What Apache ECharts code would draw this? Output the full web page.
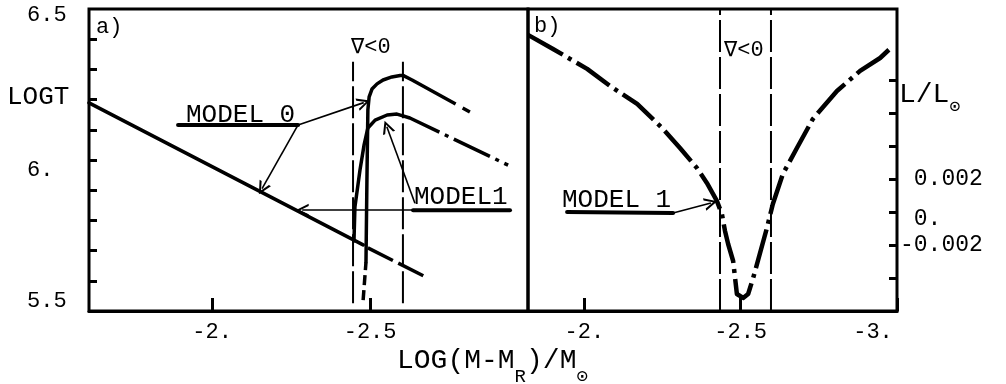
<!DOCTYPE html>
<html><head><meta charset="utf-8">
<script src="https://cdn.jsdelivr.net/npm/echarts@6/dist/echarts.min.js"></script>
<style>html,body{margin:0;padding:0;background:#fff}#c{width:1006px;height:384px}</style>
</head><body><div id="c"></div>
<script>
// ================= DATA =================
// Panel a) axes
const aXTickValues = [-2.5, -2];
const aXTickLabels = ['-2.5', '-2.'];
const logTTickValues = [5.6, 5.7, 5.8, 5.9, 6.0, 6.1, 6.2, 6.3, 6.4];
const logTLabelValues = [5.5, 6.0, 6.5];
const logTLabels = ['5.5', '6.', '6.5'];
// Panel b) axes
const bXTickValues = [-3, -2.5, -2];
const bXTickLabels = ['-3.', '-2.5', '-2.'];
const lumTickValues = [-0.004, -0.002, 0, 0.002, 0.004, 0.006, 0.008];
const lumLabelValues = [-0.002, 0, 0.002];
const lumLabels = ['-0.002', ' 0.', ' 0.002'];

// Panel a) LOG T curves
const aSharedX = [-1.610, -2.478];
const aSharedY = [6.189, 5.719];
const aSharedTailX = [-2.493, -2.683];
const aSharedTailY = [5.709, 5.609];
const aModel0LegX = [-2.478, -2.487];
const aModel0LegY = [5.536, 5.662];
const aModel0X = [-2.487, -2.490, -2.493, -2.497, -2.506, -2.522, -2.541, -2.569, -2.595, -2.604];
const aModel0Y = [5.662, 5.934, 6.166, 6.209, 6.235, 6.252, 6.265, 6.275, 6.280, 6.280];
const aModel0TailX = [-2.604, -2.633, -2.816];
const aModel0TailY = [6.280, 6.265, 6.159];
const aModel1X = [-2.449, -2.452, -2.468, -2.481, -2.493, -2.516, -2.554, -2.585, -2.604];
const aModel1Y = [5.732, 5.844, 5.967, 6.050, 6.106, 6.132, 6.149, 6.152, 6.146];
const aModel1TailX = [-2.604, -2.626, -2.937];
const aModel1TailY = [6.146, 6.139, 5.983];
// Panel a) region of negative gradient
const aGradX = [-2.446, -2.604];
const aGradY = [5.526, 6.325];

// Panel b) L/Lsun curve of model 1
const bX = [-1.820, -1.900, -2.009, -2.082, -2.169, -2.249, -2.306, -2.360, -2.392, -2.424, -2.440, -2.450, -2.460, -2.476, -2.488, -2.508, -2.524, -2.540, -2.584, -2.603, -2.635, -2.680, -2.731, -2.808, -2.882, -2.946, -2.987];
const bY = [0.01073, 0.00988, 0.00867, 0.00764, 0.00655, 0.00509, 0.00388, 0.00267, 0.00176, 0.00067, -0.00012, -0.00115, -0.00194, -0.00297, -0.00497, -0.00521, -0.00497, -0.00400, -0.00097, 0.00048, 0.00230, 0.00388, 0.00564, 0.00733, 0.00855, 0.00933, 0.01006];
const bGradX = [-2.434, -2.597];
const bGradY = [-0.006, 0.0123];

// Annotations (data coordinates)
const aLeader0 = [[-1.892, 6.116], [-2.272, 6.116]];
const aLeader1 = [[-2.636, 5.834], [-2.943, 5.834]];
const aArrowFrom = [[-2.272, 6.116], [-2.272, 6.116], [-2.636, 5.834], [-2.642, 5.857]];
const aArrowTo = [[-2.480, 6.190], [-2.158, 5.905], [-2.285, 5.834], [-2.553, 6.110]];
const bLeader = [[-1.945, 0.00000], [-2.284, -0.00006]];
const bArrowFrom = [[-2.284, -0.00006]];
const bArrowTo = [[-2.405, 0.00055]];

// ================= CHART =================
const FONT = '"Liberation Mono", "DejaVu Sans Mono", monospace';
const pairs = (xs, ys) => xs.map((x, i) => [x, ys[i]]);
const find = (vals, v) => vals.findIndex(t => Math.abs(t - v) < 1e-9);
const CHEVRON = 'path://M5,0 L10,12 L8.2,12 L5,4 L1.8,12 L0,12 Z';

function line(gi, xs, ys, type, width) {
  return {type: 'line', xAxisIndex: gi, yAxisIndex: gi, data: pairs(xs, ys), symbol: 'none',
    lineStyle: {color: '#000', width: width, type: type, cap: type === 'solid' ? 'round' : 'butt', join: 'round'},
    silent: true, animation: false, z: 3};
}
function arrows(gi, from, to) {
  return {type: 'line', xAxisIndex: gi, yAxisIndex: gi, data: [], symbol: 'none', silent: true, animation: false,
    color: '#000',
    markLine: {silent: true, animation: false, symbol: ['none', CHEVRON], symbolSize: 13,
      itemStyle: {color: '#000'},
      label: {show: false}, lineStyle: {color: '#000', width: 1.6, type: 'solid'},
      data: from.map((f, i) => [{coord: f}, {coord: to[i]}])}};
}
const tick = (vals, len) => ({show: true, inside: true, length: len, customValues: vals, lineStyle: {color: '#000', width: 3}});
const xTick = {show: true, inside: true, length: 13, lineStyle: {color: '#000', width: 3}};
const lab = {fontFamily: FONT, fontSize: 22, color: '#000'};

const series = [
  line(0, aSharedX, aSharedY, 'solid', 3.5),
  line(0, aSharedTailX, aSharedTailY, [28, 6], 3.5),
  line(0, aModel0LegX, aModel0LegY, [10, 5], 3.5),
  line(0, aModel0X, aModel0Y, 'solid', 3.5),
  line(0, aModel0TailX, aModel0TailY, [60, 8], 3.5),
  line(0, aModel1X, aModel1Y, 'solid', 3.5),
  line(0, aModel1TailX, aModel1TailY, [40, 6, 4, 6], 3.5),
  ...aGradX.map(x => line(0, [x, x], aGradY, [32, 5], 2)),
  line(0, aLeader0.map(p => p[0]), aLeader0.map(p => p[1]), 'solid', 4),
  line(0, aLeader1.map(p => p[0]), aLeader1.map(p => p[1]), 'solid', 4),
  arrows(0, aArrowFrom, aArrowTo),
  line(1, bX, bY, [40, 6, 4, 6], 4.5),
  ...bGradX.map(x => line(1, [x, x], bGradY, [32, 5], 2)),
  line(1, bLeader.map(p => p[0]), bLeader.map(p => p[1]), 'solid', 4),
  arrows(1, bArrowFrom, bArrowTo)
];

const option = {
  backgroundColor: '#fff',
  animation: false,
  grid: [
    {left: 89, top: 9, width: 439, height: 302, show: true, borderColor: '#000', borderWidth: 3, containLabel: false},
    {left: 528, top: 9, width: 369, height: 302, show: true, borderColor: '#000', borderWidth: 3, containLabel: false}
  ],
  xAxis: [
    {type: 'value', gridIndex: 0, position: 'bottom', min: -3.0, max: -1.61, interval: 0.5, inverse: true,
      splitLine: {show: false}, axisLine: {show: true, onZero: false, lineStyle: {color: '#000', width: 3}}, axisTick: xTick,
      axisLabel: Object.assign({}, lab, {margin: 10, showMinLabel: false, showMaxLabel: false,
        formatter: v => aXTickLabels[find(aXTickValues, v)] || ''})},
    {type: 'value', gridIndex: 1, position: 'bottom', min: -3.0, max: -1.82, interval: 0.5, inverse: true,
      splitLine: {show: false}, axisLine: {show: true, onZero: false, lineStyle: {color: '#000', width: 3}}, axisTick: xTick,
      axisLabel: Object.assign({}, lab, {margin: 10, showMinLabel: true, showMaxLabel: false,
        formatter: v => { const t = bXTickLabels[find(bXTickValues, v)] || ''; return v === -3 ? '{r|' + t + '}' : t; },
        rich: {r: {fontFamily: FONT, fontSize: 22, color: '#000', padding: [0, 48, 0, 0]}}})}
  ],
  yAxis: [
    {type: 'value', gridIndex: 0, min: 5.5, max: 6.5, splitLine: {show: false},
      axisLine: {show: false, onZero: false}, axisTick: tick(logTTickValues, 8),
      axisLabel: Object.assign({}, lab, {margin: 62, align: 'left', customValues: logTLabelValues,
        formatter: v => { const i = find(logTLabelValues, v); const t = logTLabels[i] || '';
          return v >= 6.45 ? '{t|' + t + '}' : v <= 5.55 ? '{b|' + t + '}' : '{m|' + t + '}'; },
        rich: {
          t: {fontFamily: FONT, fontSize: 22, color: '#000', padding: [12, 0, 0, 0]},
          m: {fontFamily: FONT, fontSize: 22, color: '#000', padding: [20, 0, 0, 0]},
          b: {fontFamily: FONT, fontSize: 22, color: '#000', padding: [0, 0, 20, 0]}
        }})},
    {type: 'value', gridIndex: 1, position: 'right', min: -0.006, max: 0.0123, splitLine: {show: false},
      axisLine: {show: false, onZero: false}, axisTick: tick(lumTickValues, 8),
      axisLabel: Object.assign({}, lab, {margin: 3, fontSize: 23, customValues: lumLabelValues,
        formatter: v => { const t = lumLabels[find(lumLabelValues, v)] || ''; return v === 0 ? '{z|' + t + '}' : t; },
        rich: {z: {fontFamily: FONT, fontSize: 23, color: '#000', padding: [14, 0, 0, 0]}}})}
  ],
  graphic: [
    {type: 'text', left: 96, top: 16, style: {text: 'a)', font: '22px ' + FONT, fill: '#000'}},
    {type: 'text', left: 534, top: 15, style: {text: 'b)', font: '22px ' + FONT, fill: '#000'}},
    {type: 'text', left: 351, top: 36, style: {text: '∇<0', font: '22px ' + FONT, fill: '#000'}},
    {type: 'text', left: 724, top: 39, style: {text: '∇<0', font: '22px ' + FONT, fill: '#000'}},
    {type: 'text', left: 186, top: 102, style: {text: 'MODEL 0', font: '26px ' + FONT, fill: '#000'}},
    {type: 'text', left: 414, top: 184, style: {text: 'MODEL1', font: '26px ' + FONT, fill: '#000'}},
    {type: 'text', left: 562, top: 187, style: {text: 'MODEL 1', font: '26px ' + FONT, fill: '#000'}},
    {type: 'text', left: 7, top: 84, style: {text: 'LOGT', font: '26px ' + FONT, fill: '#000'}},
    {type: 'text', left: 899, top: 81, style: {text: 'L/L{s|⊙}', font: '28px ' + FONT, fill: '#000',
      rich: {s: {fontFamily: FONT, fontSize: 18, fill: '#000', padding: [24, 0, 0, 0]}}}},
    {type: 'text', left: 397, top: 347, style: {text: 'LOG(M-M{s|R})/M{s|⊙}', font: '28px ' + FONT, fill: '#000',
      rich: {s: {fontFamily: FONT, fontSize: 19, fill: '#000', padding: [32, 0, 0, 0]}}}}
  ],
  series: series
};
const chart = echarts.init(document.getElementById('c'), null, {renderer: 'canvas'});
chart.setOption(option);
</script></body></html>
